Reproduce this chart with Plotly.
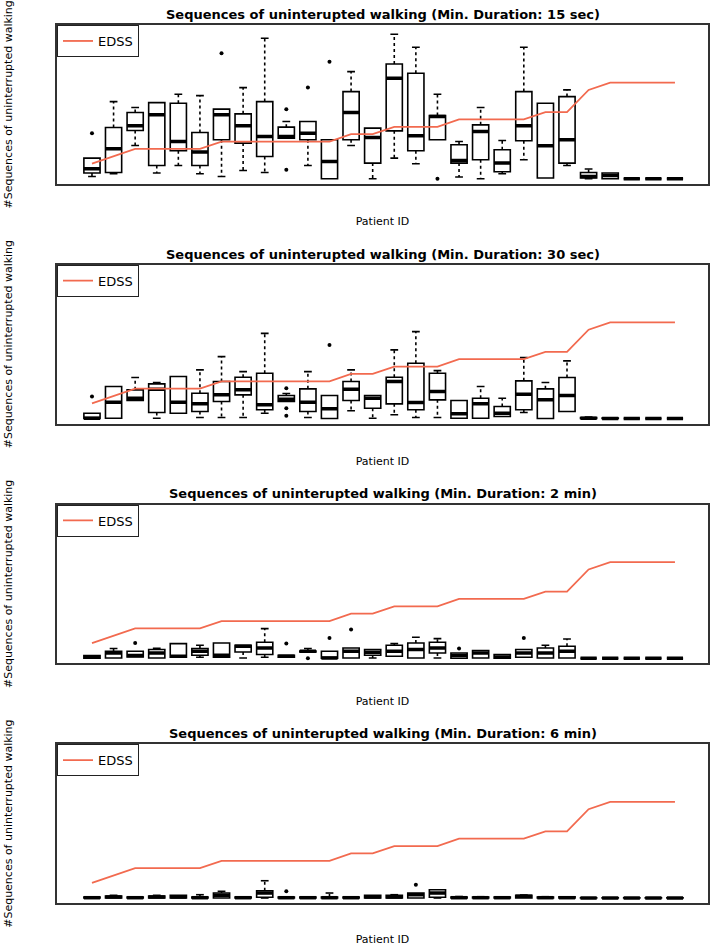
import plotly.graph_objects as go
from plotly.subplots import make_subplots

patients = list(range(1, 29))

edss = [1.0, 1.5, 2.0, 2.0, 2.0, 2.0, 2.5, 2.5, 2.5, 2.5, 2.5, 2.5, 3.0, 3.0,
        3.5, 3.5, 3.5, 4.0, 4.0, 4.0, 4.0, 4.5, 4.5, 6.0, 6.5, 6.5, 6.5, 6.5]

durations = ["15 sec", "30 sec", "2 min", "6 min"]

# ---- Min. duration 15 sec ----
q1_15 = [5.7, 6.3, 48.3, 13.3, 28, 13.3, 39, 35.7, 22.3, 40.7, 39, 0, 39, 15.7,
         48, 28, 39, 15.7, 19, 7, 38, 0.7, 15.7, 0.7, 0, 0, 0, 0]
med_15 = [10, 30, 53, 64, 37.3, 26.7, 64, 53, 42.3, 42.3, 45.7, 17.3, 66.3, 41.3,
          100.7, 43, 62.3, 18.3, 47.3, 15.7, 53, 33, 39, 2.3, 3.3, 0, 0, 0]
q3_15 = [20.7, 51.3, 66.3, 76.3, 75.7, 46.3, 69.7, 65, 77.3, 51.7, 57.3, 39, 87.3, 50.7,
         115, 105.7, 63.3, 34, 54, 29, 87.3, 75.7, 82.3, 6.3, 5.7, 0, 0, 0]
lo_15 = [2.3, 5, 33.3, 5.7, 13.3, 5, 2.3, 8.3, 6.3, 40.7, 13.3, 0, 33.3, 0,
         20.7, 15, 39, 1.7, 0, 5, 19, 0.7, 13.3, 0, 0, 0, 0, 0]
up_15 = [20.7, 77.3, 71.3, 76.3, 84.7, 83.3, 69.7, 91.3, 140.7, 57.3, 57.3, 39, 107.3, 50.7,
         144.7, 131.7, 84.7, 37.3, 71.3, 38.3, 131.7, 75.7, 89, 9.7, 5.7, 0, 0, 0]
out_x_15 = [1, 7, 10, 10, 11, 12, 17]
out_y_15 = [45.7, 125.7, 69.7, 9, 91.3, 117.3, 0]

# ---- Min. duration 30 sec ----
q1_30 = [0, 0.3, 18, 6, 5.3, 7, 17, 23.7, 8.7, 17, 7, 0, 18, 10.3,
         14.7, 8.7, 18.7, 0.3, 0.3, 2, 8.7, 0, 7, 0, 0, 0, 0, 0]
med_30 = [0.3, 16.3, 20.3, 29.3, 16.3, 14.7, 23.7, 28.7, 13.7, 19.3, 16.3, 9.7, 29.3, 20.3,
          37, 16, 27, 4.7, 14.7, 5.3, 24.3, 18.7, 23, 0.3, 0, 0, 0, 0]
q3_30 = [5.3, 32, 28.7, 34.7, 42, 25.3, 37, 41.3, 45.3, 23, 29.7, 23, 37, 23,
         41.3, 55.3, 45.3, 18, 20.3, 12, 37.7, 29.7, 41, 1, 0.5, 0, 0, 0]
lo_30 = [0, 0.3, 18, 0.3, 5.3, 1, 1, 1, 5.3, 17, 1, 0, 7.7, 0.3,
         3.7, 1, 1, 0.3, 0.3, 2, 6, 0, 7, 0, 0, 0, 0, 0]
up_30 = [5.3, 32, 41, 36, 42, 48.7, 62, 47, 85.3, 25, 47, 23, 48.7, 23,
         68.7, 87, 48, 18, 32, 20.3, 61, 36, 57.7, 1.5, 0.5, 0, 0, 0]
out_x_30 = [1, 10, 10, 10, 12]
out_y_30 = [22, 30.3, 10.3, 2.7, 73.7]

# ---- Min. duration 2 min ----
q1_2 = [0, 0.3, 1.3, 0.3, 1, 3, 1, 6.3, 3.7, 1, 6.3, 0, 0.3, 3,
        2, 0.3, 5.3, 0, 0.3, 0, 1, 0.3, 0.3, 0, 0, 0, 0, 0]
med_2 = [1, 5.3, 2.7, 5.3, 2, 7, 3, 12, 10.3, 2, 7, 0.3, 7, 6,
         7, 8.7, 10.3, 2.7, 5.3, 1.3, 5.3, 5.3, 7, 0, 0, 0, 0, 0]
q3_2 = [2.7, 7, 7, 8.7, 14.7, 9.7, 15.3, 13, 16, 3, 7.3, 7, 10.3, 8.7,
        13, 15.3, 16, 5.3, 7.7, 3.7, 8.7, 10.3, 12, 0, 0, 0, 0, 0]
lo_2 = [0, 0.3, 1.3, 0.3, 1, 1, 1, 0.3, 1, 1, 6.3, 0, 0.3, 0.3,
        2, 0.3, 0.3, 0, 0.3, 0, 1, 0.3, 0.3, 0, 0, 0, 0, 0]
up_2 = [2.7, 9.7, 7, 10, 14.7, 13, 15.3, 13, 29.7, 3, 9.7, 7, 10.3, 8.7,
        14.7, 21, 19.7, 5.3, 7.7, 3.7, 8.7, 13, 19.3, 0, 0, 0, 0, 0]
out_x_2 = [3, 10, 11, 12, 13, 18, 21]
out_y_2 = [15.3, 14.7, 0, 20.3, 28.7, 9.7, 20.3]

# ---- Min. duration 6 min ----
q1_6 = [0, 0, 0, 0, 0, 0, 0, 0, 0.7, 0, 0, 0, 0, 0,
        0, 0, 0.7, 0, 0, 0, 0, 0, 0, 0, 0, 0, 0, 0]
med_6 = [0.3, 1, 0.3, 1, 1, 0.3, 2.7, 0.3, 5, 0.3, 0.3, 0.3, 0.3, 1,
         1, 3.3, 5, 0.3, 0.3, 0.3, 1.7, 0.3, 0.3, 0, 0, 0, 0, 0]
q3_6 = [1, 2, 1, 2, 2.7, 1, 5, 1, 7.3, 1, 1, 1, 1, 2.7,
        2.7, 5, 8.3, 1, 1, 1, 2.7, 1, 1.3, 0.3, 0.3, 0.3, 0.3, 0.3]
lo_6 = [0] * 28
up_6 = [1, 2.7, 1, 2.7, 2.7, 3.3, 6.7, 1, 17.3, 1, 1, 5, 1, 2.7,
        3.3, 5, 8.3, 1.5, 1.3, 1, 3, 1.3, 1.3, 0.3, 0.3, 0.3, 0.3, 0.3]
out_x_6 = [10, 16]
out_y_6 = [6.7, 13.3]

panels = [
    (q1_15, med_15, q3_15, lo_15, up_15, out_x_15, out_y_15),
    (q1_30, med_30, q3_30, lo_30, up_30, out_x_30, out_y_30),
    (q1_2, med_2, q3_2, lo_2, up_2, out_x_2, out_y_2),
    (q1_6, med_6, q3_6, lo_6, up_6, out_x_6, out_y_6),
]

FONT = "DejaVu Sans"
EDSS_COLOR = "#F26A4F"
BOX_W = 0.75
CAP_HALF = 0.18
LW = 1.6

fig = make_subplots(rows=4, cols=1, specs=[[{"secondary_y": True}]] * 4,
                    vertical_spacing=81 / 878)

for r, (q1, med, q3, lo, up, ox, oy) in enumerate(panels, start=1):
    # boxes (no whiskers: fences = hinges)
    fig.add_trace(go.Box(x=patients, q1=q1, median=med, q3=q3,
                         lowerfence=q1, upperfence=q3, width=BOX_W,
                         whiskerwidth=0, boxpoints=False,
                         line=dict(color="black", width=LW),
                         fillcolor="rgba(255,255,255,0)", showlegend=False,
                         hoverinfo="skip"),
                  row=r, col=1, secondary_y=False)
    # dashed whiskers and solid caps
    wx, wy, cx, cy = [], [], [], []
    for p, a, b, l, u in zip(patients, q1, q3, lo, up):
        if u > b:
            wx += [p, p, None]; wy += [b, u, None]
            cx += [p - CAP_HALF, p + CAP_HALF, None]; cy += [u, u, None]
        if l < a:
            wx += [p, p, None]; wy += [a, l, None]
            cx += [p - CAP_HALF, p + CAP_HALF, None]; cy += [l, l, None]
    fig.add_trace(go.Scatter(x=wx, y=wy, mode="lines",
                             line=dict(color="black", width=LW, dash="3px,3px"),
                             showlegend=False, hoverinfo="skip"),
                  row=r, col=1, secondary_y=False)
    fig.add_trace(go.Scatter(x=cx, y=cy, mode="lines",
                             line=dict(color="black", width=LW),
                             showlegend=False, hoverinfo="skip"),
                  row=r, col=1, secondary_y=False)
    # thick medians
    mx, my = [], []
    for p, m in zip(patients, med):
        mx += [p - BOX_W / 2, p + BOX_W / 2, None]; my += [m, m, None]
    fig.add_trace(go.Scatter(x=mx, y=my, mode="lines",
                             line=dict(color="black", width=3.5),
                             showlegend=False, hoverinfo="skip"),
                  row=r, col=1, secondary_y=False)
    # outliers
    fig.add_trace(go.Scatter(x=ox, y=oy, mode="markers",
                             marker=dict(color="black", size=4),
                             showlegend=False, hoverinfo="skip"),
                  row=r, col=1, secondary_y=False)
    # EDSS line
    leg = "legend" if r == 1 else f"legend{r}"
    fig.add_trace(go.Scatter(x=patients, y=edss, mode="lines", name="EDSS",
                             line=dict(color=EDSS_COLOR, width=1.8),
                             legend=leg, showlegend=True),
                  row=r, col=1, secondary_y=True)

layout_updates = {}
for r in range(1, 5):
    xa = "xaxis" if r == 1 else f"xaxis{r}"
    dom = fig.layout[xa].anchor
    ya_name = "yaxis" if dom == "y" else "yaxis" + dom[1:]
    ydom = fig.layout[ya_name].domain
    leg = "legend" if r == 1 else f"legend{r}"
    layout_updates[leg] = dict(x=0.0, y=ydom[1], xanchor="left", yanchor="top",
                               xref="paper", yref="paper",
                               bordercolor="#222", borderwidth=1,
                               bgcolor="white",
                               font=dict(family=FONT, size=13, color="black"),
                               itemwidth=30)
    fig.add_annotation(text=f"<b>Sequences of uninterupted walking (Min. Duration: {durations[r-1]})</b>",
                       xref="paper", yref="paper", x=0.5, y=ydom[1],
                       xanchor="center", yanchor="bottom", yshift=1, showarrow=False,
                       font=dict(family=FONT, size=13, color="black"))

fig.update_layout(**layout_updates)

fig.update_xaxes(domain=[0, 1], range=[-0.62, 29.53], showticklabels=False, ticks="",
                 showgrid=False, zeroline=False, showline=True, mirror=True,
                 linecolor="#333", linewidth=1.5,
                 title=dict(text="Patient ID", standoff=33,
                            font=dict(family=FONT, size=11, color="black")))
fig.update_yaxes(range=[-5, 154], showticklabels=False, ticks="",
                 showgrid=False, zeroline=False, showline=True, mirror=True,
                 linecolor="#333", linewidth=1.5,
                 title=dict(text="#Sequences of uninterrupted walking", standoff=40,
                            font=dict(family=FONT, size=11, color="black")),
                 secondary_y=False)
fig.update_yaxes(range=[-0.36, 10.4], showticklabels=False, ticks="",
                 showgrid=False, zeroline=False, showline=False,
                 secondary_y=True)

fig.update_layout(width=711, height=946,
                  margin=dict(l=57, r=3, t=25, b=43, autoexpand=False),
                  plot_bgcolor="white", paper_bgcolor="white",
                  hovermode=False,
                  font=dict(family=FONT, color="black"))

fig.write_html("out.html", config={"displayModeBar": False},
               post_script="document.body.style.margin='0';document.body.style.overflow='hidden';")
